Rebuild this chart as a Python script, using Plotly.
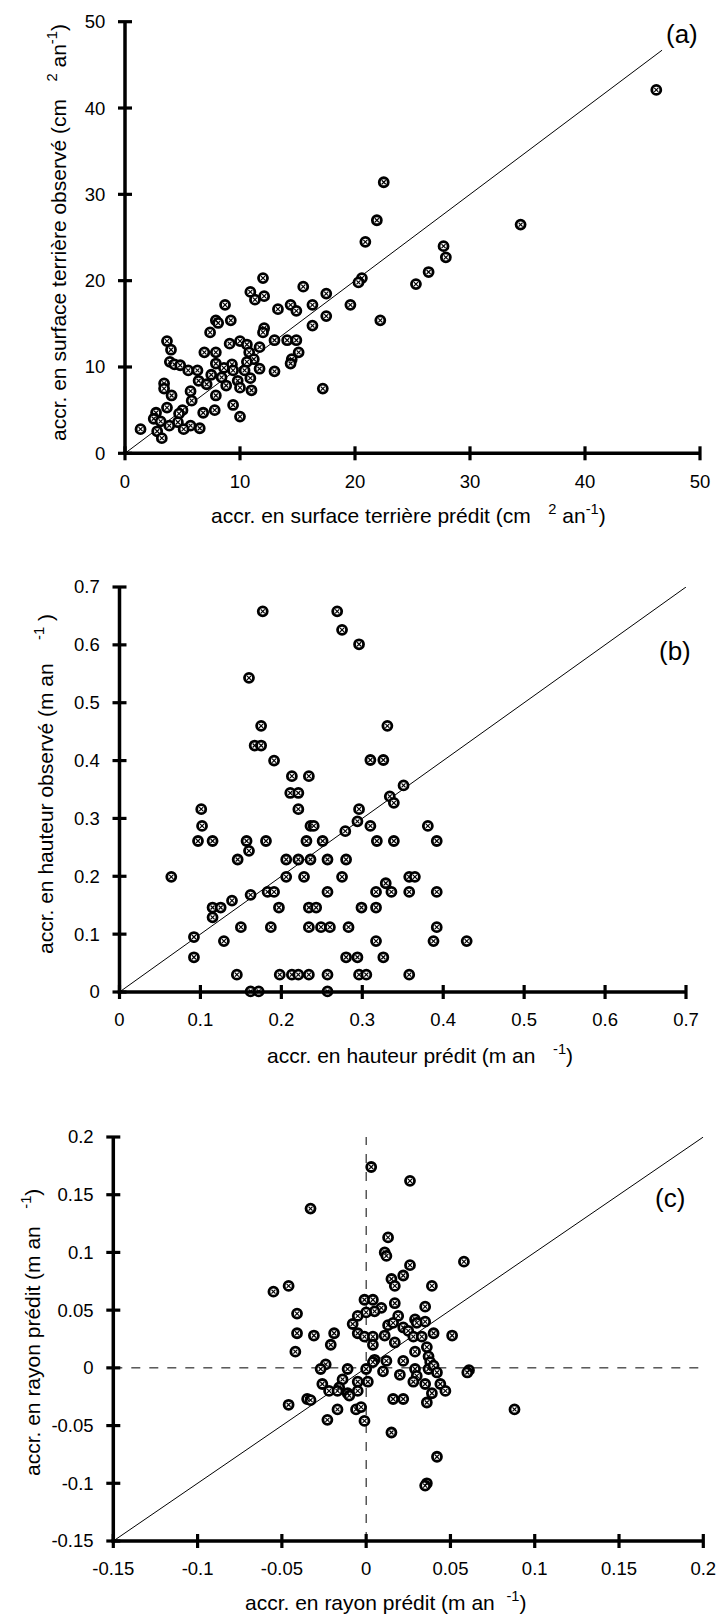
import plotly.graph_objects as go

# ---- (a) basal area increment: predicted vs observed (cm2 / yr) ----
a_pred = [46.2, 22.5, 21.9, 34.4, 20.9, 27.7, 27.9, 26.4, 25.3, 20.6,
          20.3, 12.0, 15.5, 10.9, 12.1, 11.3, 17.5, 8.7, 13.3, 14.4,
          14.9, 16.3, 19.6, 17.5, 22.2, 16.3, 7.9, 8.1, 9.2, 7.4,
          12.1, 12.0, 13.0, 14.1, 14.9, 3.65, 4.0, 9.1, 10.0, 10.6,
          11.7, 6.9, 7.9, 10.8, 15.1, 11.2, 14.5, 14.4, 3.9, 4.3,
          4.8, 7.9, 9.3, 10.6, 5.5, 6.3, 8.6, 9.4, 10.4, 11.7,
          13.0, 7.5, 8.4, 10.9, 6.4, 9.8, 7.1, 8.8, 3.4, 3.4,
          10.0, 11.0, 17.2, 4.05, 7.9, 5.7, 5.8, 3.65, 9.4, 5.0,
          7.8, 4.7, 6.8, 10.0, 2.7, 2.5, 3.1, 4.6, 3.85, 5.7,
          6.5, 5.1, 1.35, 2.8, 3.2]
a_obs = [42.1, 31.4, 27.0, 26.5, 24.5, 24.0, 22.7, 21.0, 19.6, 20.3,
         19.8, 20.3, 19.3, 18.7, 18.2, 17.8, 18.5, 17.2, 16.7, 17.2,
         16.5, 17.2, 17.2, 15.9, 15.4, 14.8, 15.4, 15.1, 15.4, 14.0,
         14.5, 14.0, 13.1, 13.1, 13.1, 13.0, 12.0, 12.7, 13.0, 12.6,
         12.3, 11.7, 11.7, 11.7, 11.7, 10.9, 10.9, 10.4, 10.6, 10.3,
         10.2, 10.4, 10.3, 10.6, 9.6, 9.6, 9.9, 9.6, 9.6, 9.8,
         9.5, 9.1, 8.8, 8.7, 8.4, 8.4, 8.0, 7.85, 8.1, 7.5,
         7.6, 7.3, 7.5, 6.7, 6.7, 7.2, 6.1, 5.3, 5.6, 5.0,
         5.0, 4.6, 4.7, 4.25, 4.7, 4.0, 3.7, 3.6, 3.2, 3.2,
         2.9, 2.8, 2.8, 2.55, 1.75]
a_ticks = [0, 10, 20, 30, 40, 50]
a_ticklabels = ["0", "10", "20", "30", "40", "50"]
a_one2one = [0, 46.7]

# ---- (b) height increment (m / yr) ----
b_pred = [0.177, 0.269, 0.275, 0.296, 0.160, 0.175, 0.331, 0.167, 0.175, 0.191,
          0.310, 0.326, 0.213, 0.234, 0.211, 0.221, 0.351, 0.334, 0.339, 0.101,
          0.221, 0.296, 0.102, 0.236, 0.240, 0.310, 0.381, 0.294, 0.279, 0.097,
          0.115, 0.157, 0.181, 0.231, 0.251, 0.318, 0.339, 0.392, 0.160, 0.146,
          0.206, 0.221, 0.236, 0.257, 0.280, 0.064, 0.206, 0.228, 0.275, 0.358,
          0.365, 0.329, 0.162, 0.183, 0.191, 0.257, 0.317, 0.336, 0.358, 0.392,
          0.139, 0.115, 0.125, 0.197, 0.234, 0.243, 0.299, 0.317, 0.115, 0.150,
          0.187, 0.234, 0.249, 0.260, 0.283, 0.392, 0.092, 0.129, 0.317, 0.388,
          0.429, 0.092, 0.280, 0.294, 0.326, 0.145, 0.198, 0.213, 0.221, 0.234,
          0.257, 0.296, 0.305, 0.358, 0.162, 0.172, 0.257]
b_obs = [0.658, 0.658, 0.626, 0.601, 0.543, 0.460, 0.460, 0.426, 0.426, 0.400,
         0.401, 0.401, 0.373, 0.373, 0.344, 0.344, 0.357, 0.338, 0.327, 0.316,
         0.316, 0.316, 0.287, 0.287, 0.287, 0.287, 0.287, 0.295, 0.278, 0.261,
         0.261, 0.261, 0.261, 0.261, 0.261, 0.261, 0.261, 0.261, 0.244, 0.229,
         0.229, 0.229, 0.229, 0.229, 0.229, 0.199, 0.199, 0.199, 0.199, 0.199,
         0.199, 0.188, 0.168, 0.173, 0.173, 0.173, 0.173, 0.173, 0.173, 0.173,
         0.158, 0.146, 0.146, 0.146, 0.146, 0.146, 0.146, 0.146, 0.129, 0.112,
         0.112, 0.112, 0.112, 0.112, 0.112, 0.112, 0.095, 0.088, 0.088, 0.088,
         0.088, 0.060, 0.060, 0.060, 0.060, 0.030, 0.030, 0.030, 0.030, 0.030,
         0.030, 0.030, 0.030, 0.030, 0.001, 0.001, 0.001]
b_ticks = [0, 0.1, 0.2, 0.3, 0.4, 0.5, 0.6, 0.7]
b_ticklabels = ["0", "0.1", "0.2", "0.3", "0.4", "0.5", "0.6", "0.7"]
b_one2one = [0, 0.7]

# ---- (c) radius increment (m / yr) ----
c_x = [0.003, 0.026, -0.033, 0.013, 0.011, 0.012, 0.058, 0.026, 0.022, 0.015,
       0.017, 0.039, -0.046, -0.055, 0.017, 0.035, -0.001, 0.004, 0.009, 0.005,
       0.000, -0.005, -0.041, 0.019, 0.029, 0.035, 0.030, -0.008, 0.013, 0.016,
       0.022, 0.025, -0.041, -0.031, -0.019, -0.005, -0.001, 0.004, 0.011, 0.028,
       0.033, 0.040, 0.051, -0.021, 0.004, 0.017, 0.036, -0.042, 0.029, 0.037,
       0.005, 0.012, 0.022, 0.038, -0.024, 0.004, -0.027, -0.011, 0.000, 0.029,
       0.037, 0.040, 0.061, 0.060, 0.010, 0.042, 0.020, 0.030, -0.026, -0.014,
       -0.005, 0.001, 0.028, 0.035, 0.044, -0.016, -0.022, -0.017, -0.011, -0.005,
       -0.010, 0.039, 0.047, -0.046, -0.035, -0.033, 0.016, 0.022, 0.036, -0.017,
       -0.006, -0.003, -0.023, -0.001, 0.015, 0.088, 0.042, 0.036, 0.035]
c_y = [0.174, 0.162, 0.138, 0.113, 0.100, 0.097, 0.092, 0.089, 0.080, 0.077,
       0.071, 0.071, 0.071, 0.066, 0.056, 0.053, 0.059, 0.059, 0.052, 0.049,
       0.048, 0.045, 0.047, 0.045, 0.042, 0.040, 0.039, 0.038, 0.037, 0.039,
       0.035, 0.032, 0.030, 0.028, 0.030, 0.030, 0.027, 0.027, 0.028, 0.027,
       0.027, 0.030, 0.028, 0.020, 0.020, 0.022, 0.018, 0.014, 0.014, 0.010,
       0.007, 0.006, 0.006, 0.005, 0.003, 0.005, -0.001, -0.001, -0.001, -0.001,
       -0.001, 0.002, -0.002, -0.004, -0.003, -0.004, -0.006, -0.007, -0.014, -0.010,
       -0.012, -0.012, -0.012, -0.014, -0.014, -0.017, -0.020, -0.020, -0.022, -0.020,
       -0.024, -0.022, -0.020, -0.032, -0.027, -0.028, -0.027, -0.027, -0.030, -0.036,
       -0.036, -0.034, -0.045, -0.046, -0.056, -0.036, -0.077, -0.100, -0.102]
c_ticks = [-0.15, -0.1, -0.05, 0, 0.05, 0.1, 0.15, 0.2]
c_ticklabels = ["-0.15", "-0.1", "-0.05", "0", "0.05", "0.1", "0.15", "0.2"]
c_range = [-0.15, 0.2]
c_zero = [0, 0]

W, H = 718, 1618
FONT = "Liberation Sans, Arial, sans-serif"
NB = "\u00a0"
AXIS_W = 3.5   # axis line width (px)
TICK_W = 3.2   # tick mark width (px)
TICK_HALF = 7  # tick marks cross the axis line, this far on each side (px)

fig = go.Figure()


def add_points(x, y, xa, ya):
    # ringed marker with a small cross in the middle
    fig.add_trace(go.Scatter(
        x=x, y=y, xaxis=xa, yaxis=ya, mode="markers", cliponaxis=False,
        marker=dict(symbol="circle", size=9, color="white",
                    line=dict(color="black", width=2.8)),
        hoverinfo="skip", showlegend=False))
    fig.add_trace(go.Scatter(
        x=x, y=y, xaxis=xa, yaxis=ya, mode="markers", cliponaxis=False,
        marker=dict(symbol="x-thin", size=4, color="black",
                    line=dict(color="black", width=1.2)),
        hoverinfo="skip", showlegend=False))


def add_line(x, y, xa, ya, dash="solid"):
    fig.add_trace(go.Scatter(
        x=x, y=y, xaxis=xa, yaxis=ya, mode="lines", cliponaxis=False,
        line=dict(color="black", width=1, dash=dash),
        hoverinfo="skip", showlegend=False))


# 1:1 lines and zero references
add_line(a_one2one, a_one2one, "x", "y")
add_line(b_one2one, b_one2one, "x2", "y2")
add_line(c_range, c_range, "x3", "y3")
add_line(c_zero, c_range, "x3", "y3", dash="dash")
add_line(c_range, c_zero, "x3", "y3", dash="dash")

add_points(a_pred, a_obs, "x", "y")
add_points(b_pred, b_obs, "x2", "y2")
add_points(c_x, c_y, "x3", "y3")


def px_x(v):
    return v / W


def px_y(v):
    return 1 - v / H


panels = [
    # axis suffix, x domain (left, right px), y domain (top, bottom px), ticks
    ("", (125, 700), (21.7, 453.3), a_ticks, a_ticklabels),
    ("2", (119.5, 686), (587, 992), b_ticks, b_ticklabels),
    ("3", (113.3, 703.3), (1137, 1541), c_ticks, c_ticklabels),
]

layout_axes = {}
shapes = []
axis_line = dict(color="black", width=AXIS_W)
tick_line = dict(color="black", width=TICK_W)
for sfx, (xl, xr), (yt, yb), tv, tt in panels:
    rng = [tv[0], tv[-1]]
    common = dict(range=rng, tickvals=tv, ticktext=tt, showgrid=False,
                  zeroline=False, showline=False, ticks="outside",
                  tickcolor="rgba(0,0,0,0)",
                  tickfont=dict(family=FONT, size=18.5, color="black"),
                  fixedrange=True, automargin=False)
    layout_axes["xaxis" + sfx] = dict(common, domain=[px_x(xl), px_x(xr)],
                                      anchor="y" + sfx, ticklen=11)
    layout_axes["yaxis" + sfx] = dict(common, domain=[px_y(yb), px_y(yt)],
                                      anchor="x" + sfx, ticklen=15)

    # heavy axis lines along the left and bottom edges of each panel
    shapes.append(dict(type="line", xref="paper", yref="paper",
                       x0=px_x(xl - AXIS_W / 2), x1=px_x(xr),
                       y0=px_y(yb), y1=px_y(yb), line=axis_line))
    shapes.append(dict(type="line", xref="paper", yref="paper",
                       x0=px_x(xl), x1=px_x(xl),
                       y0=px_y(yt), y1=px_y(yb + AXIS_W / 2), line=axis_line))
    # tick marks crossing each axis, placed through the axis scale
    for v in tv:
        fx = xl + (v - rng[0]) / (rng[1] - rng[0]) * (xr - xl)
        fy = yb - (v - rng[0]) / (rng[1] - rng[0]) * (yb - yt)
        shapes.append(dict(type="line", xref="paper", yref="paper",
                           x0=px_x(fx), x1=px_x(fx),
                           y0=px_y(yb - TICK_HALF), y1=px_y(yb + TICK_HALF),
                           line=tick_line))
        shapes.append(dict(type="line", xref="paper", yref="paper",
                           x0=px_x(xl - TICK_HALF), x1=px_x(xl + TICK_HALF),
                           y0=px_y(fy), y1=px_y(fy), line=tick_line))

title_font = dict(family=FONT, size=21, color="black")
sup2 = "<sup>2</sup>"
sup_m1 = "<sup>-1</sup>"
annotations = [
    dict(text="accr. en surface terrière observé (cm" + NB * 3 + sup2 + " an" + sup_m1 + ")",
         x=px_x(57), y=px_y(233), textangle=-90),
    dict(text="accr. en surface terrière prédit (cm" + NB * 3 + sup2 + " an" + sup_m1 + ")",
         x=px_x(409), y=px_y(514)),
    dict(text="accr. en hauteur observé (m an" + NB * 4 + sup_m1 + " )",
         x=px_x(44), y=px_y(784), textangle=-90),
    dict(text="accr. en hauteur prédit (m an" + NB * 3 + sup_m1 + ")",
         x=px_x(420), y=px_y(1054)),
    dict(text="accr. en rayon prédit (m an" + NB * 3 + sup_m1 + ")",
         x=px_x(31), y=px_y(1333), textangle=-90),
    dict(text="accr. en rayon prédit (m an" + NB * 2 + sup_m1 + ")",
         x=px_x(386), y=px_y(1601)),
]
for ann in annotations:
    ann.update(xref="paper", yref="paper", showarrow=False, font=title_font,
               xanchor="center", yanchor="middle")

panel_font = dict(family=FONT, size=26, color="black")
annotations += [
    dict(text="(a)", xref="x", yref="y", x=48.4, y=48.6),
    dict(text="(b)", xref="x2", yref="y2", x=0.686, y=0.59),
    dict(text="(c)", xref="x3", yref="y3", x=0.18, y=0.147),
]
for ann in annotations[-3:]:
    ann.update(showarrow=False, font=panel_font, xanchor="center",
               yanchor="middle")

fig.update_layout(
    width=W, height=H,
    margin=dict(l=0, r=0, t=0, b=0),
    paper_bgcolor="white", plot_bgcolor="white",
    showlegend=False,
    shapes=shapes,
    annotations=annotations,
    **layout_axes,
)

fig.write_html("out.html", config=dict(displayModeBar=False))
